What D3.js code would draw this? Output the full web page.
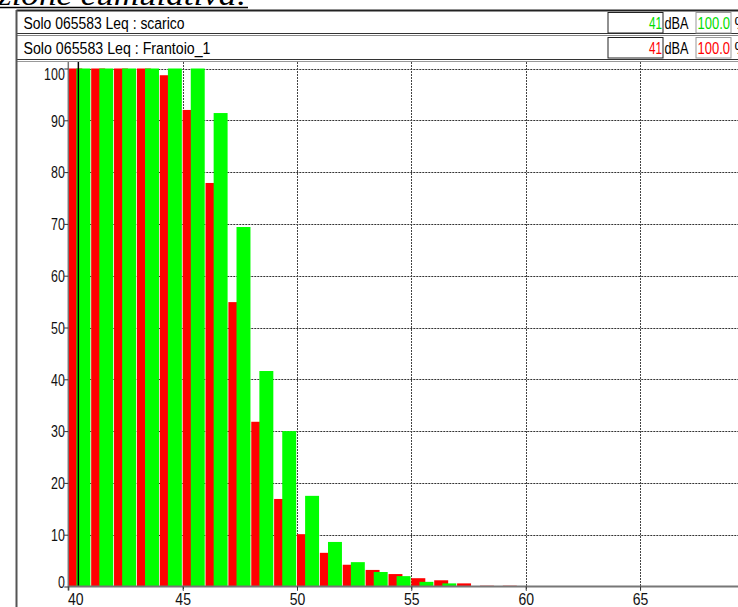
<!DOCTYPE html>
<html>
<head>
<meta charset="utf-8">
<script src="https://cdn.jsdelivr.net/npm/d3@7/dist/d3.min.js"></script>
<style>
  html, body { margin: 0; padding: 0; background: #fff; overflow: hidden; }
  svg { display: block; }
  text { font-family: "Liberation Sans", Arial, sans-serif; }
</style>
</head>
<body>
<svg id="chart" width="738" height="607"></svg>
<script>
// ---- data ----
const bins = [40, 41, 42, 43, 44, 45, 46, 47, 48, 49, 50, 51, 52, 53, 54, 55, 56, 57, 58, 59];
const frantoio = [100, 100, 100, 100, 98.7, 92.0, 77.9, 54.9, 31.8, 16.9, 10.1, 6.5, 4.2, 3.2, 2.4, 1.6, 1.2, 0.6, 0.15, 0.15];
const scarico  = [100, 100, 100, 100, 100, 100, 91.4, 69.4, 41.6, 30.0, 17.5, 8.6, 4.7, 2.8, 2.0, 0.9, 0.6, 0, 0, 0];
const xTicks = [40, 45, 50, 55, 60, 65];
const yTicks = [0, 10, 20, 30, 40, 50, 60, 70, 80, 90, 100];
const cursorValue = [40.44];
const titleText = "zione cumulativa:";
const seriesRows = [
  { label: "Solo 065583  Leq : scarico", value: "41", unit: "dBA", pct: "100.0", color: "#00dd00" },
  { label: "Solo 065583  Leq : Frantoio_1", value: "41", unit: "dBA", pct: "100.0", color: "#ff0000" }
];

// ---- layout ----
const svg = d3.select("#chart");
const W = 738, H = 607;
const plotLeft = 68.3, plotTop = 62, plotBottom = 586.5;
const x = d3.scaleLinear().domain([40, 70]).range([plotLeft, plotLeft + 30 * 22.87]);
const y = d3.scaleLinear().domain([0, 100]).range([plotBottom, 68.5]);
const bw = x(41) - x(40);

// ---- title ----
svg.append("text")
  .attr("x", -2).attr("y", 5)
  .attr("textLength", 250).attr("lengthAdjust", "spacingAndGlyphs")
  .style("font-family", "'Liberation Serif', 'Times New Roman', serif")
  .style("font-style", "italic")
  .style("font-size", "30px")
  .text(titleText);
svg.append("line").attr("x1", 0).attr("x2", 248).attr("y1", 7.5).attr("y2", 7.5)
  .attr("stroke", "#000").attr("stroke-width", 1.5);

// ---- header frame ----
const hdr = svg.append("g");
hdr.append("line").attr("x1", 16.5).attr("x2", W).attr("y1", 10.5).attr("y2", 10.5).attr("stroke", "#222").attr("stroke-width", 2);
hdr.append("line").attr("x1", 16.5).attr("x2", W).attr("y1", 33.5).attr("y2", 33.5).attr("stroke", "#333").attr("stroke-width", 1.2);
hdr.append("line").attr("x1", 16.5).attr("x2", W).attr("y1", 35.5).attr("y2", 35.5).attr("stroke", "#888").attr("stroke-width", 1.2);
hdr.append("line").attr("x1", 16.5).attr("x2", W).attr("y1", 59.5).attr("y2", 59.5).attr("stroke", "#333").attr("stroke-width", 1.2);
hdr.append("line").attr("x1", 16.5).attr("x2", W).attr("y1", 61.5).attr("y2", 61.5).attr("stroke", "#999").attr("stroke-width", 1.2);
hdr.append("line").attr("x1", 16.5).attr("x2", 16.5).attr("y1", 10).attr("y2", H).attr("stroke", "#555").attr("stroke-width", 2);

const rowTops = [11, 36];
const labelLens = [161, 187];
seriesRows.forEach((r, i) => {
  const top = rowTops[i];
  hdr.append("text").attr("x", 23.5).attr("y", top + 17.5)
    .attr("textLength", labelLens[i]).attr("lengthAdjust", "spacingAndGlyphs")
    .style("font-size", "16px").attr("fill", "#000").text(r.label);
  hdr.append("rect").attr("x", 608).attr("y", top + 1.5).attr("width", 55).attr("height", 20.5)
    .attr("fill", "#fff").attr("stroke", "#222").attr("stroke-width", 1);
  hdr.append("text").attr("x", 649).attr("y", top + 17.5)
    .attr("textLength", 13).attr("lengthAdjust", "spacingAndGlyphs")
    .style("font-size", "16px").attr("fill", r.color).text(r.value);
  hdr.append("text").attr("x", 664.5).attr("y", top + 17.5)
    .attr("textLength", 24).attr("lengthAdjust", "spacingAndGlyphs")
    .style("font-size", "16px").attr("fill", "#000").text(r.unit);
  hdr.append("rect").attr("x", 696).attr("y", top + 1.5).attr("width", 35).attr("height", 20.5)
    .attr("fill", "#fff").attr("stroke", "#999").attr("stroke-width", 1);
  hdr.append("text").attr("x", 697.5).attr("y", top + 17.5)
    .attr("textLength", 32.5).attr("lengthAdjust", "spacingAndGlyphs")
    .style("font-size", "16px").attr("fill", r.color).text(r.pct);
  hdr.append("text").attr("x", 734.5).attr("y", top + 17.5)
    .style("font-size", "16px").attr("fill", "#000").text("%");
});

// ---- grid ----
const grid = svg.append("g");
grid.selectAll("line.h").data(yTicks.filter(d => d > 0)).join("line")
  .attr("x1", plotLeft).attr("x2", W)
  .attr("y1", d => Math.round(y(d)) + 0.5).attr("y2", d => Math.round(y(d)) + 0.5)
  .attr("stroke", "#333").attr("stroke-width", 1).attr("stroke-dasharray", "2,1");
grid.selectAll("line.v").data(xTicks.filter(d => d > 40).concat([70])).join("line")
  .attr("x1", d => Math.round(x(d)) + 0.5).attr("x2", d => Math.round(x(d)) + 0.5)
  .attr("y1", plotTop).attr("y2", plotBottom + 4)
  .attr("stroke", "#444").attr("stroke-width", 1).attr("stroke-dasharray", "2,1");

// ---- bars ----
const barsG = svg.append("g");
barsG.selectAll("rect.red").data(bins).join("rect")
  .attr("x", d => x(d))
  .attr("width", bw * 0.61)
  .attr("y", (d, i) => y(frantoio[i]))
  .attr("height", (d, i) => plotBottom - y(frantoio[i]))
  .attr("fill", "#ff0000");
barsG.selectAll("rect.green").data(bins).join("rect")
  .attr("x", d => x(d) + bw * 0.355)
  .attr("width", bw * 0.61)
  .attr("y", (d, i) => y(scarico[i]))
  .attr("height", (d, i) => plotBottom - y(scarico[i]))
  .attr("fill", "#00ff00");

// ---- cursor ----
svg.selectAll("line.cursor").data(cursorValue).join("line")
  .attr("x1", d => x(d)).attr("x2", d => x(d))
  .attr("y1", plotTop).attr("y2", plotBottom)
  .attr("stroke", "#000").attr("stroke-width", 1.5);

// ---- axes frame ----
svg.append("line").attr("x1", plotLeft).attr("x2", plotLeft).attr("y1", plotTop).attr("y2", plotBottom + 4)
  .attr("stroke", "#777").attr("stroke-width", 1.5);
svg.append("line").attr("x1", plotLeft).attr("x2", W).attr("y1", plotBottom).attr("y2", plotBottom)
  .attr("stroke", "#777").attr("stroke-width", 2);

// ---- y axis ----
const yAxis = d3.axisLeft(y).tickValues(yTicks).tickSize(4).tickFormat(d3.format("d"));
const yg = svg.append("g").attr("transform", `translate(${plotLeft},0)`).call(yAxis);
yg.select(".domain").remove();
yg.selectAll(".tick line").attr("stroke", "#333");
yg.selectAll(".tick text")
  .attr("x", -3.5)
  .attr("dy", d => d === 100 ? "0.68em" : (d === 0 ? "0.08em" : "0.36em"))
  .attr("textLength", d => String(d).length * 6.9)
  .attr("lengthAdjust", "spacingAndGlyphs")
  .style("font-family", "'Liberation Sans', Arial, sans-serif")
  .style("font-size", "16px").attr("fill", "#111");

// ---- x axis ----
const xAxis = d3.axisBottom(x).tickValues(xTicks).tickSize(4).tickFormat(d3.format("d"));
const xg = svg.append("g").attr("transform", `translate(0,${plotBottom})`).call(xAxis);
xg.select(".domain").remove();
xg.selectAll(".tick line").attr("stroke", "#333");
xg.selectAll(".tick text")
  .attr("y", 18).attr("dy", 0)
  .attr("dx", d => d === 40 ? 7 : 0)
  .attr("textLength", d => String(d).length * 7.8)
  .attr("lengthAdjust", "spacingAndGlyphs")
  .style("font-family", "'Liberation Sans', Arial, sans-serif")
  .style("font-size", "17px").attr("fill", "#111");
</script>
</body>
</html>
